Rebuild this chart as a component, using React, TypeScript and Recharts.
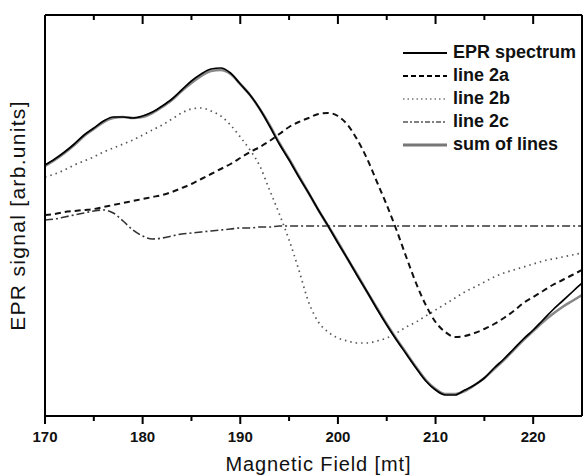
import React from 'react';
import { LineChart, Line, XAxis, YAxis, Legend, Label } from 'recharts';

// magnetic field, mT (one sample per mT)
const fields = [
  170, 171, 172, 173, 174, 175, 176, 177, 178, 179,
  180, 181, 182, 183, 184, 185, 186, 187, 188, 189,
  190, 191, 192, 193, 194, 195, 196, 197, 198, 199,
  200, 201, 202, 203, 204, 205, 206, 207, 208, 209,
  210, 211, 212, 213, 214, 215, 216, 217, 218, 219,
  220, 221, 222, 223, 224, 225,
];

// signal in arbitrary units
const eprSpectrum = [
  61, 67, 74, 82, 91, 98, 105, 109, 109, 108,
  110, 114, 120, 127, 136, 145, 152, 157, 158, 153,
  142, 131, 117, 100, 82, 66, 49, 33, 16, 0,
  -17, -33, -50, -66, -83, -99, -114, -128, -142, -155,
  -164, -169, -169, -164, -159, -152, -142, -133, -123, -113,
  -104, -94, -84, -75, -66, -57,
];

const line2a = [
  11, 12, 14, 15, 16, 17, 19, 21, 23, 25,
  27, 29, 31, 34, 38, 42, 47, 52, 57, 62,
  68, 74, 79, 85, 92, 99, 104, 108, 112, 113,
  110, 101, 86, 67, 44, 21, -4, -31, -57, -79,
  -96, -106, -111, -110, -107, -103, -98, -92, -85, -77,
  -71, -65, -59, -54, -49, -44,
];

const line2b = [
  49, 52, 56, 61, 65, 69, 74, 78, 82, 86,
  91, 96, 101, 107, 113, 117, 118, 115, 110, 101,
  89, 76, 60, 36, 12, -14, -44, -76, -96, -106,
  -112, -115, -117, -117, -115, -112, -107, -101, -96, -90,
  -84, -78, -72, -66, -61, -56, -51, -47, -44, -41,
  -38, -35, -33, -31, -29, -27,
];

const line2c = [
  6, 7, 9, 11, 13, 15, 16, 13, 5, -4,
  -10, -13, -12, -10, -8, -7, -6, -5, -4, -3,
  -2, -2, -1, -1, 0, 0, 0, 0, 0, 0,
  0, 0, 0, 0, 0, 0, 0, 0, 0, 0,
  0, 0, 0, 0, 0, 0, 0, 0, 0, 0,
  0, 0, 0, 0, 0, 0,
];

const sumOfLines = [
  60, 66, 73, 81, 90, 97, 104, 108, 109, 108,
  109, 113, 119, 126, 135, 143, 150, 155, 156, 152,
  142, 131, 117, 101, 83, 67, 50, 33, 16, 0,
  -16, -33, -49, -66, -82, -98, -113, -127, -141, -154,
  -163, -168, -168, -165, -159, -152, -143, -134, -124, -114,
  -105, -96, -88, -81, -75, -69,
];

const xTicks = [170, 175, 180, 185, 190, 195, 200, 205, 210, 215, 220];

const rows = fields.map((f, i) => ({
  field: f,
  epr: eprSpectrum[i],
  a: line2a[i],
  b: line2b[i],
  c: line2c[i],
  sum: sumOfLines[i],
}));

const FONT = '"Liberation Sans", Arial, Helvetica, sans-serif';

const legendItems = [
  { name: 'EPR spectrum', color: '#000', width: 2, dash: undefined },
  { name: 'line 2a', color: '#000', width: 2, dash: '5 3' },
  { name: 'line 2b', color: '#777', width: 1.5, dash: '1.5 3' },
  { name: 'line 2c', color: '#555', width: 1.5, dash: '5 2 2 2' },
  { name: 'sum of lines', color: '#777', width: 3, dash: undefined },
];

// tick marks drawn as small rects: long on the tens, short on the fives
const BottomTick = (props: any) => {
  const { x, y, payload } = props;
  const major = payload.value % 10 === 0;
  return (
    <g>
      <rect x={x - 1} y={y} width={2} height={major ? 8 : 5} fill="#000" stroke="none" />
      {major && (
        <text x={x} y={y + 26} textAnchor="middle" fontFamily={FONT} fontWeight="bold" fontSize={15} fill="#111">
          {payload.value}
        </text>
      )}
    </g>
  );
};

const TopTick = (props: any) => {
  const { x, y, payload } = props;
  const major = payload.value % 10 === 0;
  return <rect x={x - 1} y={y} width={2} height={major ? 9 : 5} fill="#000" stroke="none" />;
};

const renderLegend = () => (
  <div style={{ fontFamily: FONT, fontWeight: 'bold', fontSize: 18, color: '#111' }}>
    {legendItems.map((item) => (
      <div key={item.name} style={{ display: 'flex', alignItems: 'center', height: 23 }}>
        <svg width={44} height={10} style={{ marginRight: 6 }}>
          <line x1={0} x2={44} y1={5} y2={5} stroke={item.color} strokeWidth={item.width} strokeDasharray={item.dash} />
        </svg>
        <span>{item.name}</span>
      </div>
    ))}
  </div>
);

const XTitle = (props: any) => {
  const { viewBox } = props;
  return (
    <text
      x={viewBox.x + viewBox.width / 2 + 5}
      y={viewBox.y + 55}
      textAnchor="middle"
      fontFamily={FONT}
      fontSize={20}
      letterSpacing={0.9}
      fill="#111"
    >
      Magnetic Field [mt]
    </text>
  );
};

const YTitle = (props: any) => {
  const { viewBox } = props;
  const cy = viewBox.y + viewBox.height / 2;
  return (
    <text
      x={25}
      y={cy}
      transform={`rotate(-90, 25, ${cy})`}
      textAnchor="middle"
      fontFamily={FONT}
      fontSize={21}
      letterSpacing={1.3}
      fill="#111"
    >
      EPR signal [arb.units]
    </text>
  );
};

export default function App() {
  return (
    <div style={{ position: 'absolute', left: 0, top: 0, width: 585, height: 475, background: '#fff' }}>
      <LineChart width={585} height={475} data={rows} margin={{ top: 14, right: 2, left: 44, bottom: 29 }}>
        <XAxis
          dataKey="field"
          type="number"
          domain={[170, 225]}
          ticks={xTicks}
          interval={0}
          allowDataOverflow
          axisLine={{ stroke: '#000', strokeWidth: 2 }}
          tickLine={false}
          tickSize={0}
          tickMargin={0}
          tick={<BottomTick />}
          height={30}
        >
          <Label content={<XTitle />} />
        </XAxis>
        <XAxis
          xAxisId="top"
          orientation="top"
          dataKey="field"
          type="number"
          domain={[170, 225]}
          ticks={xTicks}
          interval={0}
          allowDataOverflow
          axisLine={{ stroke: '#000', strokeWidth: 2 }}
          tickLine={false}
          tickSize={0}
          tickMargin={0}
          tick={<TopTick />}
          height={1}
        />
        <YAxis
          type="number"
          domain={[-190, 211]}
          allowDataOverflow
          width={1}
          tick={false}
          tickLine={false}
          axisLine={{ stroke: '#000', strokeWidth: 2 }}
        >
          <Label content={<YTitle />} />
        </YAxis>
        <YAxis
          yAxisId="right"
          orientation="right"
          type="number"
          domain={[-190, 211]}
          width={1}
          tick={false}
          tickLine={false}
          axisLine={{ stroke: '#000', strokeWidth: 2 }}
        />
        <Legend
          layout="vertical"
          align="center"
          verticalAlign="middle"
          content={renderLegend}
          wrapperStyle={{ top: 41, left: 403, width: 'auto' }}
        />
        <Line type="monotone" dataKey="c" name="line 2c" stroke="#333" strokeWidth={1.6} strokeDasharray="8 3 2 3" dot={false} isAnimationActive={false} />
        <Line type="monotone" dataKey="b" name="line 2b" stroke="#555" strokeWidth={1.7} strokeDasharray="1.5 4" dot={false} isAnimationActive={false} />
        <Line type="monotone" dataKey="a" name="line 2a" stroke="#111" strokeWidth={2} strokeDasharray="6 4" dot={false} isAnimationActive={false} />
        <Line type="monotone" dataKey="sum" name="sum of lines" stroke="#888" strokeWidth={2.6} dot={false} isAnimationActive={false} />
        <Line type="monotone" dataKey="epr" name="EPR spectrum" stroke="#000" strokeWidth={1.7} dot={false} isAnimationActive={false} />
      </LineChart>
    </div>
  );
}
